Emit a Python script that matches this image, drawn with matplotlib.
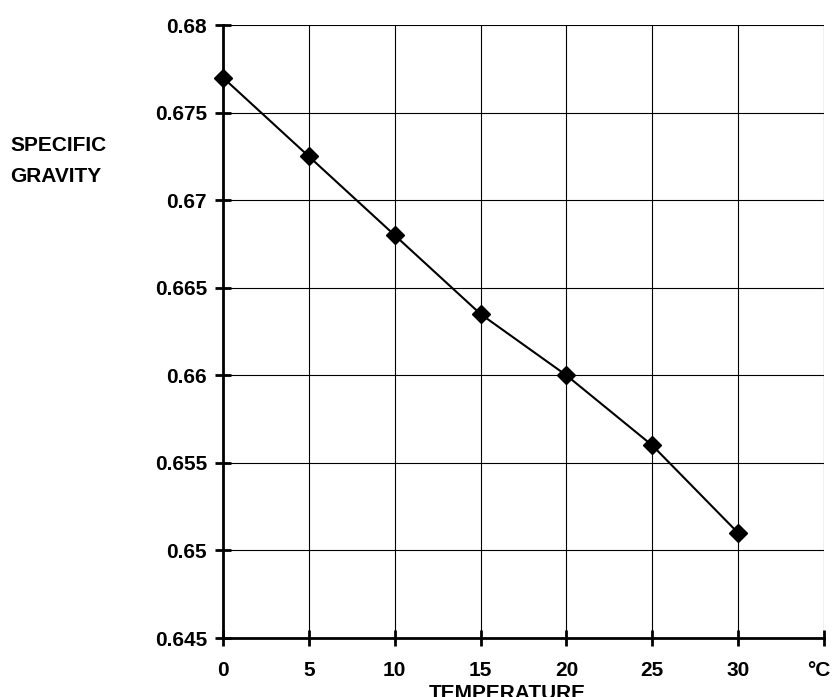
import matplotlib
matplotlib.use("Agg")
import matplotlib.pyplot as plt
from matplotlib.transforms import offset_copy

temperature = [0, 5, 10, 15, 20, 25, 30]
specific_gravity = [0.677, 0.6725, 0.668, 0.6635, 0.660, 0.656, 0.651]
x_ticks = [0, 5, 10, 15, 20, 25, 30, 35]
x_labels = ["0", "5", "10", "15", "20", "25", "30", "°C"]
y_ticks = [0.645, 0.65, 0.655, 0.66, 0.665, 0.67, 0.675, 0.68]
y_labels = ["0.645", "0.65", "0.655", "0.66", "0.665", "0.67", "0.675", "0.68"]

plt.rcParams['font.family'] = ['Liberation Sans', 'DejaVu Sans']
plt.rcParams['font.weight'] = 'bold'

fig = plt.figure(figsize=(8.34, 6.97), dpi=100)
ax = fig.add_axes([0.2674, 0.0846, 0.7206, 0.8794])

ax.plot(temperature, specific_gravity, color='black', linewidth=1.5,
        marker='D', markersize=9, zorder=3, clip_on=False)

ax.set_xlim(0, 35)
ax.set_ylim(0.645, 0.68)
ax.set_xticks(x_ticks)
ax.set_xticklabels(x_labels)
ax.set_yticks(y_ticks)
ax.set_yticklabels(y_labels)
ax.grid(True, color='black', linewidth=0.8)
ax.set_axisbelow(True)

for side in ['top', 'right']:
    ax.spines[side].set_visible(False)
for side in ['left', 'bottom']:
    ax.spines[side].set_linewidth(2)

ax.tick_params(axis='both', direction='inout', length=11, width=2,
               labelsize=15, colors='black')
ax.tick_params(axis='x', pad=11)
ax.tick_params(axis='y', pad=6)

# unit label sits a bit left of its tick so it stays inside the figure
unit_lbl = ax.get_xticklabels()[-1]
unit_lbl.set_transform(offset_copy(unit_lbl.get_transform(), fig=fig, x=-5, units='dots'))

fig.text(0.012, 0.769, "SPECIFIC\nGRAVITY", fontsize=15, fontweight='bold',
         va='center', ha='left', linespacing=1.85)
fig.text(0.608, 0.019, "TEMPERATURE", fontsize=15, fontweight='bold',
         ha='center', va='top')

fig.savefig("out.png", dpi=100)
